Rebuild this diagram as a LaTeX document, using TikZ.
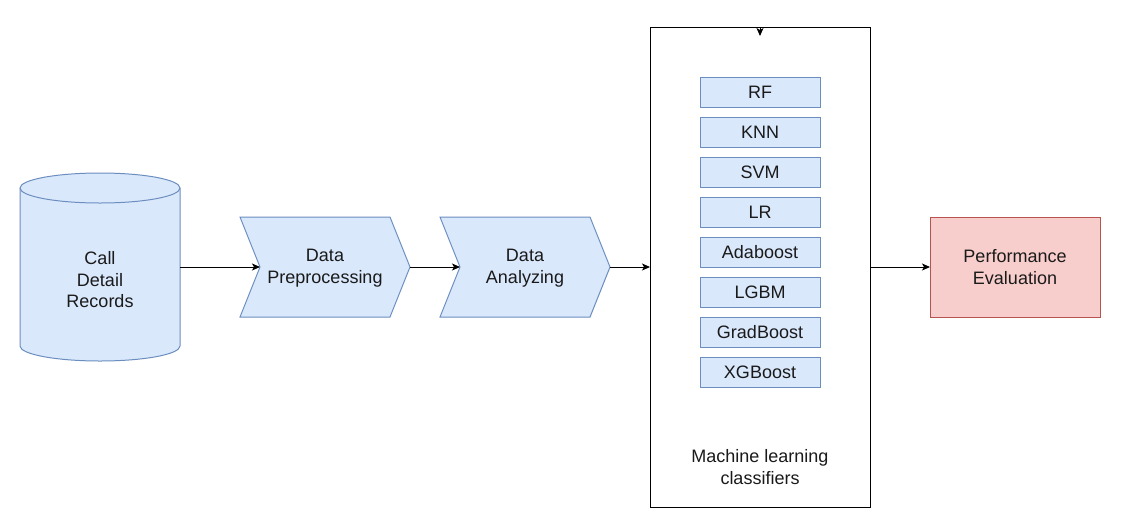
\documentclass[tikz,border=0pt]{standalone}
\usepackage{fontspec}
\setmainfont{Liberation Sans}
\usetikzlibrary{arrows.meta,calc}
\definecolor{bfill}{HTML}{DAE8FC}
\definecolor{bdraw}{HTML}{6C8EBF}
\definecolor{rfill}{HTML}{F8CECC}
\definecolor{rdraw}{HTML}{B85450}
\definecolor{txt}{HTML}{1A1A1A}
\begin{document}
\begin{tikzpicture}[x=1pt,y=-1pt,
  font=\fontsize{18}{21.5}\selectfont, text=txt,
  conn/.style={draw=black, line width=1pt, -{Stealth[length=8pt,width=7pt,inset=2pt]}},
  clf/.style={draw=bdraw, fill=bfill, line width=1pt, minimum width=120pt, minimum height=30pt, inner sep=0pt, outer sep=0pt},
  area/.style={inner sep=0pt, outer sep=0pt, align=center},
  blueshape/.style={draw=bdraw, fill=bfill, line width=1pt},
]
\useasboundingbox (0,0) rectangle (1121,528);

% cylinder
\node[area, minimum width=160pt, minimum height=188pt] (cdr) at (100,267) {};
\path[blueshape] ($(cdr.south west)+(0,-15)$) arc[start angle=180, end angle=360, x radius=80pt, y radius=15pt]
  -- ($(cdr.north east)+(0,15)$) arc[start angle=0, end angle=180, x radius=80pt, y radius=15pt] -- cycle;
\draw[draw=bdraw, line width=1pt] ($(cdr.north west)+(0,15)$) arc[start angle=180, end angle=360, x radius=80pt, y radius=15pt];
\node[area] (cdrtext) at (100,280) {Call\\Detail\\Records};

% chevrons
\node[area, minimum width=170pt, minimum height=100pt] (pre) at (325,267) {};
\path[blueshape] (pre.north west) -- ($(pre.north east)+(-20,0)$) -- (pre.east) -- ($(pre.south east)+(-20,0)$) -- (pre.south west) -- ($(pre.west)+(20,0)$) -- cycle;
\coordinate (prein) at ($(pre.west)+(20,0)$);
\node[area] (pretext) at (325,268) {Data\\Preprocessing};

\node[area, minimum width=170pt, minimum height=100pt] (ana) at (525,267) {};
\path[blueshape] (ana.north west) -- ($(ana.north east)+(-20,0)$) -- (ana.east) -- ($(ana.south east)+(-20,0)$) -- (ana.south west) -- ($(ana.west)+(20,0)$) -- cycle;
\coordinate (anain) at ($(ana.west)+(20,0)$);
\node[area] (anatext) at (525,268) {Data\\Analyzing};

% classifier container
\node[draw=black, line width=1pt, minimum width=220pt, minimum height=480pt, inner sep=0pt, outer sep=0pt] (ml) at (760,267) {};
\node[clf] (rf) at (760,92) {RF};
\node[clf] (knn) at (760,132) {KNN};
\node[clf] (svm) at (760,172) {SVM};
\node[clf] (lr) at (760,212) {LR};
\node[clf] (ada) at (760,252) {Adaboost};
\node[clf] (lgbm) at (760,292) {LGBM};
\node[clf] (gb) at (760,332) {GradBoost};
\node[clf] (xgb) at (760,372) {XGBoost};
\node[area] (mllabel) at (760,467) {Machine learning\\classifiers};

% performance
\node[draw=rdraw, fill=rfill, line width=1pt, minimum width=170pt, minimum height=100pt, inner sep=0pt, outer sep=0pt, align=center] (perf) at (1015,267) {Performance\\Evaluation};

% connectors
\draw[conn] (cdr.east) -- (prein);
\draw[conn] (pre.east) -- (anain);
\draw[conn] (ana.east) -- (ml.west);
\draw[conn] (ml.east) -- (perf.west);
\coordinate (topend) at (760,36);
\draw[conn] (ml.north) -- (topend);
\end{tikzpicture}
\end{document}
